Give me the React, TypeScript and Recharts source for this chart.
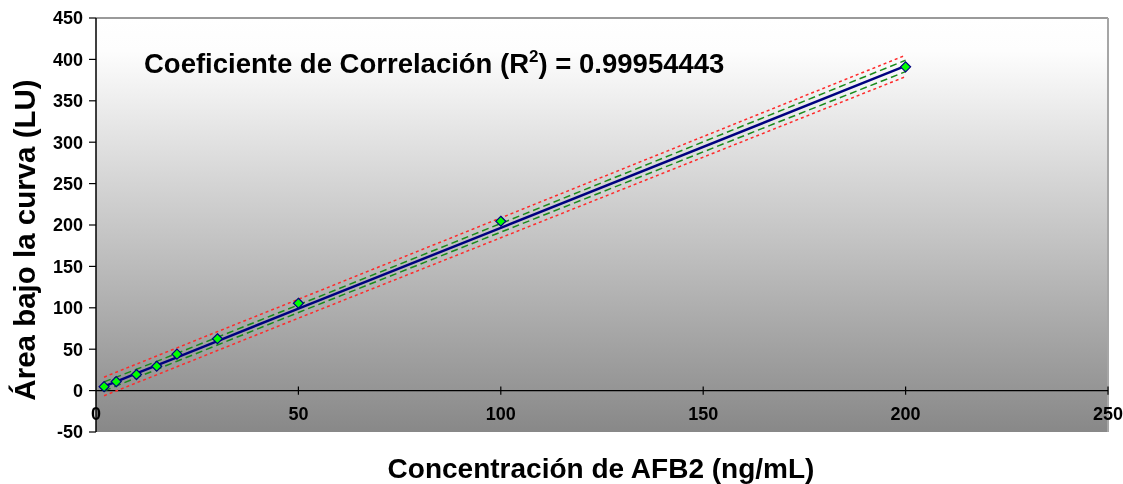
import React from 'react';
import {
  ComposedChart, Line, Scatter, XAxis, YAxis, CartesianGrid, ReferenceLine, Customized,
} from 'recharts';

const concentrations = [2, 5, 10, 15, 20, 30, 50, 100, 200];
const areas = [4.8, 10.9, 19.4, 29.4, 44.0, 62.6, 105.5, 204.5, 391.0];
const fitted = [5.0, 10.9, 20.7, 30.4, 40.2, 59.8, 98.9, 196.6, 392.1];
const confUpper = [10.5, 16.2, 25.8, 35.3, 45.0, 64.5, 103.5, 201.8, 399.0];
const confLower = [-0.5, 5.6, 15.6, 25.5, 35.4, 55.1, 94.3, 191.4, 385.2];
const predUpper = [16.2, 22.2, 32.0, 41.8, 51.6, 71.2, 110.3, 208.6, 405.0];
const predLower = [-6.2, -0.4, 9.4, 19.0, 28.8, 48.4, 87.5, 184.6, 379.2];

const xTicks = [0, 50, 100, 150, 200, 250];
const yTicks = [-50, 0, 50, 100, 150, 200, 250, 300, 350, 400, 450];

const titleMain = 'Coeficiente de Correlación (R';
const titleSup = '2';
const titleEnd = ') = 0.99954443';
const xTitle = 'Concentración de AFB2 (ng/mL)';
const yTitle = 'Área bajo la curva (LU)';

const rows = concentrations.map((x, i) => ({
  x,
  y: areas[i],
  fit: fitted[i],
  cu: confUpper[i],
  cl: confLower[i],
  pu: predUpper[i],
  pl: predLower[i],
}));

const FONT = 'Arial, "Liberation Sans", Helvetica, sans-serif';

const XTick = (props: any) => {
  const { x, y, payload } = props;
  return (
    <text x={x} y={y - 18} textAnchor="middle" dominantBaseline="central"
      fontFamily={FONT} fontWeight="bold" fontSize={18} fill="#000">
      {payload.value}
    </text>
  );
};

const Diamond = (props: any) => {
  const { cx, cy } = props;
  if (cx == null || cy == null) return null;
  const r = 5;
  return (
    <polygon
      points={`${cx},${cy - r} ${cx + r},${cy} ${cx},${cy + r} ${cx - r},${cy}`}
      fill="#00ff00" stroke="#000080" strokeWidth={1.2}
    />
  );
};

const Titles = () => (
  <g fontFamily={FONT} fontWeight="bold" fill="#000">
    <text x={144} y={73} fontSize={27.5}>
      {titleMain}
      <tspan fontSize={17} dy={-11}>{titleSup}</tspan>
      <tspan dy={11}>{titleEnd}</tspan>
    </text>
    <text x={601} y={478} fontSize={28} textAnchor="middle">{xTitle}</text>
    <text x={35} y={240} fontSize={29.5} textAnchor="middle" transform="rotate(-90 35 240)">{yTitle}</text>
  </g>
);

export default function App() {
  return (
    <div style={{ position: 'fixed', left: 0, top: 0 }}>
      <ComposedChart
        width={1123}
        height={484}
        data={rows}
        margin={{ top: 18, right: 15, left: 0, bottom: 0 }}
      >
        <defs>
          <linearGradient id="bgGrad" x1="0" y1="0" x2="0" y2="1">
            <stop offset="0" stopColor="#ffffff" />
            <stop offset="0.08" stopColor="#fdfdfd" />
            <stop offset="1" stopColor="#888888" />
          </linearGradient>
        </defs>
        <CartesianGrid horizontal={false} vertical={false} fill="url(#bgGrad)" />
        <XAxis
          type="number"
          dataKey="x"
          domain={[0, 250]}
          ticks={xTicks}
          axisLine={false}
          tickLine={false}
          tickSize={0}
          tickMargin={0}
          height={52}
          tick={<XTick />}
          interval={0}
          allowDataOverflow
        />
        <YAxis
          type="number"
          domain={[-50, 450]}
          ticks={yTicks}
          width={96}
          interval={0}
          tickSize={7}
          tickMargin={6}
          axisLine={{ stroke: '#000', strokeWidth: 1.5 }}
          tickLine={{ stroke: '#000', strokeWidth: 1.2 }}
          tick={{ fill: '#000', fontSize: 18, fontWeight: 'bold', fontFamily: FONT }}
          allowDataOverflow
        />
        <ReferenceLine y={450} stroke="#9a9a9a" strokeWidth={2} />
        <ReferenceLine x={250} stroke="#a6a6a6" strokeWidth={2} />
        <ReferenceLine y={0} stroke="#000" strokeWidth={1.2} />
        {xTicks.slice(1).map((t) => (
          <ReferenceLine key={t} segment={[{ x: t, y: -5 }, { x: t, y: 5 }]} stroke="#000" strokeWidth={1.2} />
        ))}
        <Line type="linear" dataKey="pu" stroke="#ff2a2a" strokeWidth={1.5} strokeDasharray="3 3" dot={false} isAnimationActive={false} />
        <Line type="linear" dataKey="pl" stroke="#ff2a2a" strokeWidth={1.5} strokeDasharray="3 3" dot={false} isAnimationActive={false} />
        <Line type="linear" dataKey="cu" stroke="#1a8a1a" strokeWidth={1.5} strokeDasharray="7 4" dot={false} isAnimationActive={false} />
        <Line type="linear" dataKey="cl" stroke="#1a8a1a" strokeWidth={1.5} strokeDasharray="7 4" dot={false} isAnimationActive={false} />
        <Line type="linear" dataKey="fit" stroke="#000080" strokeWidth={2.5} dot={false} isAnimationActive={false} />
        <Scatter dataKey="y" shape={<Diamond />} isAnimationActive={false} />
        <Customized component={Titles} />
      </ComposedChart>
    </div>
  );
}
